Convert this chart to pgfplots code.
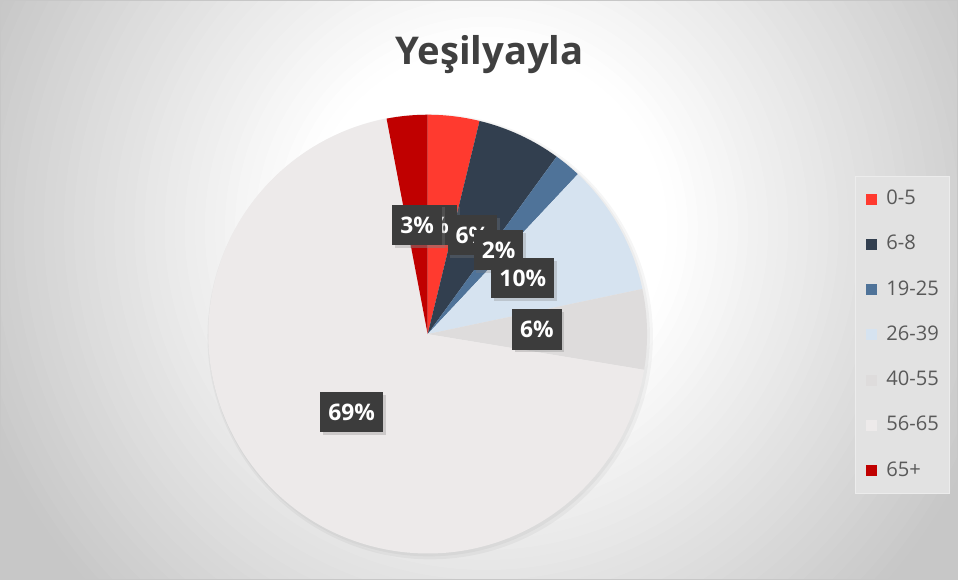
\documentclass[border=0pt]{standalone}
\usepackage{pgfplots}
\pgfplotsset{compat=1.18}
\usepackage{pgfplotstable}
\usepackage{fontspec}
\setmainfont{Open Sans}
\usetikzlibrary{shadows}

\definecolor{c0}{HTML}{FF3A2F}
\definecolor{c1}{HTML}{323F4F}
\definecolor{c2}{HTML}{4F7399}
\definecolor{c3}{HTML}{D6E3F0}
\definecolor{c4}{HTML}{DEDCDC}
\definecolor{c5}{HTML}{EDEAEA}
\definecolor{c6}{HTML}{C00000}
\definecolor{lblfill}{HTML}{3C3C3C}
\definecolor{titlecol}{HTML}{404040}
\definecolor{legtext}{HTML}{595959}
\definecolor{legfill}{HTML}{E2E2E2}
\definecolor{legdraw}{HTML}{ECECEC}

\tikzset{lbl/.style={fill=lblfill, text=white, font=\fontsize{17}{20}\selectfont\bfseries,
    inner xsep=6pt, inner ysep=0pt, minimum height=30pt, text height=12.3pt, text depth=0pt,
    drop shadow={shadow xshift=2pt, shadow yshift=-2pt, opacity=0.3}}}

% shares in percent (labels show them rounded)
\pgfplotstableread{
label pct
0-5 3.8
6-8 6.2
19-25 2.0
26-39 9.7
40-55 5.9
56-65 69.4
65+ 3.0
}\piedata

\begin{document}
\begin{tikzpicture}
\def\cum{0}
\pgfplotsforeachungrouped \i in {0,...,6}{%
  \pgfplotstablegetelem{\i}{pct}\of\piedata
  \pgfmathsetmacro\sa{90-3.6*\cum}%
  \pgfmathsetmacro\cum{\cum+\pgfplotsretval}%
  \pgfmathsetmacro\ea{90-3.6*\cum}%
  \expandafter\xdef\csname sA\i\endcsname{\sa}%
  \expandafter\xdef\csname eA\i\endcsname{\ea}%
}
% background gradient steps (radius in px, grey level)
\pgfplotsforeachungrouped \i in {0,...,46}{%
  \pgfmathsetmacro\rr{620-10*\i}%
  \pgfmathsetmacro\gg{1-0.01*min(22,max(0,(\rr-185)*0.062))}%
  \definecolor{bg\i}{gray}{\gg}%
}
\begin{axis}[
  scale only axis, width=718.5pt, height=437.25pt,
  xmin=0, xmax=958, ymin=0, ymax=583,
  hide axis, clip=false,
  legend image code/.code={\fill[#1, draw=none] (0pt,-4.1pt) rectangle (8.25pt,4.1pt);},
  legend cell align=left,
  legend style={at={(856/958,405/583)}, anchor=north west,
    fill=legfill, draw=legdraw, line width=1pt,
    font=\fontsize{15}{18}\selectfont, text=legtext,
    inner xsep=8pt, inner ysep=10pt, row sep=19.75pt,
    nodes={inner sep=0pt, text height=11pt, text depth=3pt},
    /tikz/every odd column/.append style={column sep=6.75pt}},
]
% background
\fill[bg0] (axis cs:7,4) rectangle (axis cs:958,579);
\begin{scope}
  \clip (axis cs:7,4) rectangle (axis cs:958,579);
  \pgfplotsinvokeforeach{1,...,46}{%
    \fill[bg#1] (axis cs:490,353) circle[radius={(620-10*#1)*0.75pt}];
  }
\end{scope}
\draw[black!22, line width=0.75pt] (axis cs:7,4) rectangle (axis cs:958,579);
% title
\node[anchor=base, text=titlecol, font=\fontsize{28.5}{34}\selectfont\bfseries] at (axis cs:493,515) {Yeşilyayla};
% pie shadow
\fill[black, opacity=0.035] (axis cs:434,245) circle[radius=166pt];
\fill[black, opacity=0.035] (axis cs:433,246) circle[radius=164.5pt];
% slices
\pgfplotsinvokeforeach{0,...,6}{%
  \fill[c#1] (axis cs:431.5,247.5) -- ++(\csname sA#1\endcsname:163.5pt)
    arc[start angle=\csname sA#1\endcsname, end angle=\csname eA#1\endcsname, radius=163.5pt] -- cycle;
}
% data labels
\node[lbl] at (axis cs:436,356) {4\%};
\node[lbl] at (axis cs:476,346) {6\%};
\node[lbl] at (axis cs:502,331) {2\%};
\node[lbl] at (axis cs:526,303) {10\%};
\node[lbl] at (axis cs:540,252) {6\%};
\node[lbl] at (axis cs:356,170) {69\%};
\node[lbl] at (axis cs:421,356) {3\%};
% legend
\addlegendimage{fill=c0}
\addlegendimage{fill=c1}
\addlegendimage{fill=c2}
\addlegendimage{fill=c3}
\addlegendimage{fill=c4}
\addlegendimage{fill=c5}
\addlegendimage{fill=c6}
\legend{0-5,6-8,19-25,26-39,40-55,56-65,65+}
\end{axis}
\end{tikzpicture}
\end{document}
